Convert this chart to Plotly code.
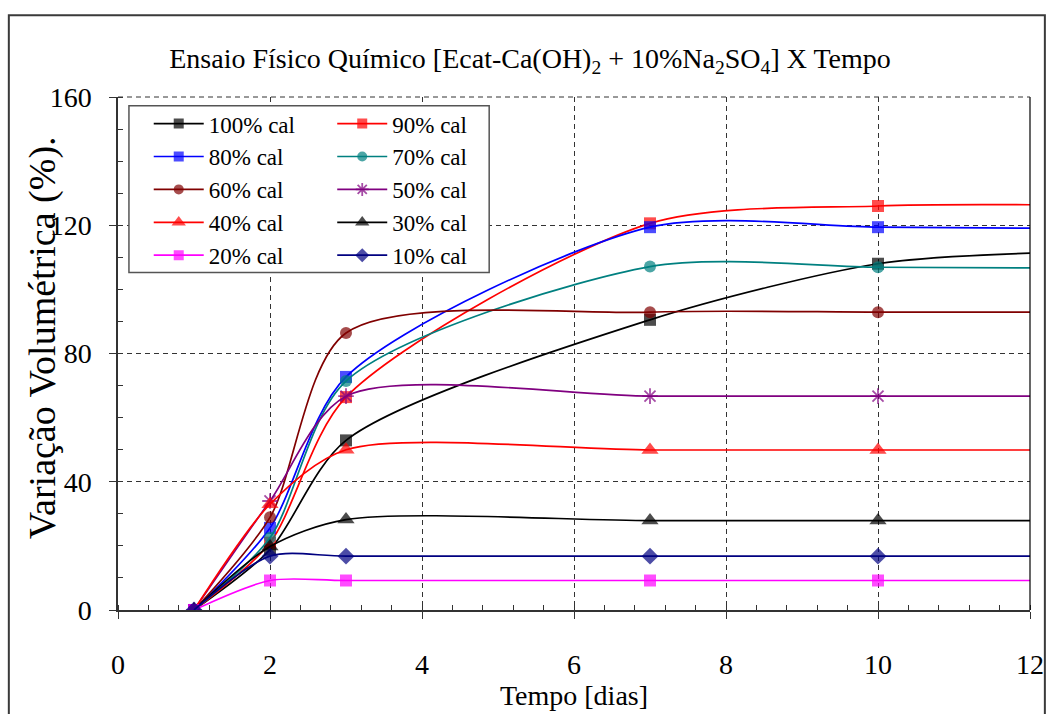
import plotly.graph_objects as go

# Days of measurement; the last entry (12) only carries each curve to the axis end
days = [1, 2, 3, 7, 10, 12]
has_marker = [1, 1, 1, 1, 1, 0]

series_names = ["100% cal", "90% cal", "80% cal", "70% cal", "60% cal",
                "50% cal", "40% cal", "30% cal", "20% cal", "10% cal"]

# Volumetric change (%) per lime content
cal_100 = [0, 18.8, 52.9, 90.5, 108.0, 111.3]
cal_90 = [0, 21.0, 66.4, 120.6, 126.0, 126.4]
cal_80 = [0, 25.6, 72.7, 119.4, 119.4, 119.1]
cal_70 = [0, 22.5, 71.4, 107.1, 106.9, 106.7]
cal_60 = [0, 28.9, 86.4, 92.9, 92.9, 92.9]
cal_50 = [0, 34.0, 66.7, 66.7, 66.7, 66.7]
cal_40 = [0, 33.0, 50.0, 49.9, 49.9, 49.9]
cal_30 = [0, 19.8, 28.2, 27.9, 27.9, 27.9]
cal_20 = [0, 9.2, 9.2, 9.2, 9.2, 9.2]
cal_10 = [0, 16.8, 16.8, 16.8, 16.8, 16.8]

series_values = [cal_100, cal_90, cal_80, cal_70, cal_60,
                 cal_50, cal_40, cal_30, cal_20, cal_10]

colors = ["#000000", "#FF0000", "#0000FF", "#008080", "#800000",
          "#800080", "#FF0000", "#000000", "#FF00FF", "#000080"]
symbols = ["square", "square", "square", "circle", "circle",
           "asterisk-open", "triangle-up", "triangle-up", "square", "diamond"]
symbol_sizes = [12, 12, 12, 12, 12, 13, 15, 15, 12, 13]

FONT = "Liberation Serif"
AXIS_COLOR = "#333333"

fig = go.Figure()
for i, (name, vals) in enumerate(zip(series_names, series_values)):
    is_open = symbols[i].endswith("-open")
    sizes = [symbol_sizes[i] * m for m in has_marker]
    fig.add_trace(go.Scatter(
        x=days, y=vals, name=name,
        mode="lines+markers",
        line=dict(color=colors[i], width=1.7, shape="spline", smoothing=0.8),
        marker=dict(symbol=symbols[i], size=sizes, color=colors[i],
                    line=dict(color=colors[i], width=1.8 if is_open else 0)),
        legend="legend" if i % 2 == 0 else "legend2",
        legendgroup=name,
        hoverinfo="skip",
    ))

tickfont = dict(family=FONT, size=28, color="#000000")

legend_common = dict(
    xanchor="left", yanchor="top",
    bgcolor="rgba(0,0,0,0)", borderwidth=0,
    font=dict(family=FONT, size=23, color="#000000"),
    tracegroupgap=0, itemwidth=50,
)

fig.update_layout(
    width=1056, height=714,
    margin=dict(l=118, r=19, t=97, b=90),
    paper_bgcolor="white", plot_bgcolor="white",
    font=dict(family=FONT, color="#000000"),
    title=dict(
        text="Ensaio Físico Químico [Ecat-Ca(OH)<sub>2</sub> + 10%Na<sub>2</sub>SO<sub>4</sub>] X Tempo",
        font=dict(family=FONT, size=28, color="#000000"),
        x=530 / 1056, xanchor="center", xref="container",
        y=1 - 58 / 714, yanchor="middle", yref="container",
    ),
    xaxis=dict(
        range=[0, 12], tick0=0, dtick=2,
        ticks="outside", ticklen=7, tickcolor=AXIS_COLOR, tickwidth=1,
        showline=True, linecolor=AXIS_COLOR, linewidth=1.5,
        showgrid=True, gridcolor=AXIS_COLOR, gridwidth=1, griddash="5px,4px",
        zeroline=False,
        minor=dict(dtick=0.4, ticks="inside", ticklen=5, tickcolor=AXIS_COLOR, showgrid=False),
        tickfont=tickfont, ticklabelstandoff=22,
        title=dict(text="Tempo [dias]", font=dict(family=FONT, size=28, color="#000000"), standoff=2),
    ),
    yaxis=dict(
        range=[0, 160], tick0=0, dtick=40,
        ticks="outside", ticklen=7, tickcolor=AXIS_COLOR, tickwidth=1,
        showline=True, linecolor=AXIS_COLOR, linewidth=1.5,
        showgrid=True, gridcolor=AXIS_COLOR, gridwidth=1, griddash="5px,4px",
        zeroline=False,
        minor=dict(dtick=10, ticks="inside", ticklen=5, tickcolor=AXIS_COLOR, showgrid=False),
        tickfont=tickfont, ticklabelstandoff=12,
    ),
    legend=dict(x=0.0337, y=0.990, **legend_common),
    legend2=dict(x=0.2349, y=0.990, **legend_common),
    annotations=[
        dict(text="Variação Volumétrica (%).", textangle=-90,
             xref="paper", yref="paper", x=-0.0827, y=0.531,
             xanchor="center", yanchor="middle", showarrow=False,
             font=dict(family=FONT, size=38, color="#000000")),
    ],
    shapes=[
        # outer chart frame
        dict(type="rect", xref="paper", yref="paper",
             x0=-0.1197, x1=1.0163, y0=-0.25, y1=1.1594,
             line=dict(color="#3a3a3a", width=2), fillcolor="rgba(0,0,0,0)", layer="below"),
        # right edge of plot area
        dict(type="line", xref="paper", yref="paper", x0=1, x1=1, y0=0, y1=1,
             line=dict(color="#000000", width=1.2)),
        # top edge of plot area (dashed like the grid)
        dict(type="line", xref="paper", yref="paper", x0=0, x1=1, y0=1, y1=1,
             line=dict(color=AXIS_COLOR, width=1, dash="5px,4px")),
        # legend frame
        dict(type="rect", xref="paper", yref="paper",
             x0=0.012, x1=0.407, y0=0.658, y1=0.983,
             line=dict(color="#555555", width=1.5), fillcolor="white", layer="above"),
    ],
)

fig.write_html("out.html")
